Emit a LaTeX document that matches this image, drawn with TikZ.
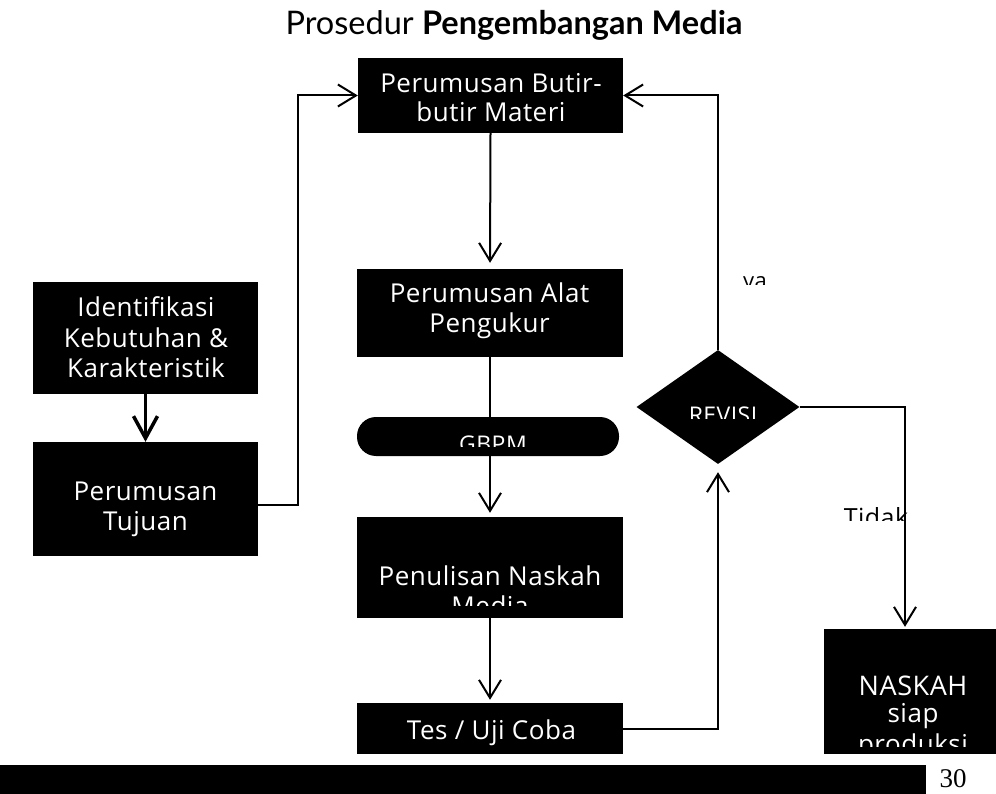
\documentclass[tikz,border=0pt]{standalone}
\usepackage{fontspec}
\setmainfont{Open Sans}[LetterSpace=2]
\newfontfamily\titlefont{Lato}
\newfontfamily\numfont{Liberation Serif}
\usetikzlibrary{arrows.meta,shapes.geometric}

\begin{document}
\begin{tikzpicture}[x=1pt,y=-1pt,
  blk/.style={fill=black,draw=none,inner sep=0pt},
  wtxt/.style={text=white,inner sep=0pt,anchor=base,font=\fontsize{26}{30}\selectfont},
  ktxt/.style={text=black,inner sep=0pt,anchor=base,font=\fontsize{22}{28}\selectfont},
  wire/.style={line width=2pt},
  conn/.style={line width=2pt,-{Straight Barb[length=18pt,width=22pt]}},
  bigconn/.style={line width=3.5pt,-{Straight Barb[length=22pt,width=24pt]}}]
\useasboundingbox (0,0) rectangle (996,794);

% title
\node[inner sep=0pt,anchor=base,font=\titlefont\fontsize{32.5}{38}\selectfont]
  (title) at (514,35) {Prosedur \textbf{Pengembangan Media}};

% boxes
\node[blk,minimum width=225pt,minimum height=112pt] (idf) at (145.5,338) {};
\node[blk,minimum width=225pt,minimum height=114pt] (tuj) at (145.5,499) {};
\node[blk,minimum width=265pt,minimum height=75pt] (b1) at (490.5,95.5) {};
\node[blk,minimum width=266pt,minimum height=88pt] (b2) at (490,313) {};
\node[blk,rounded corners=19pt,minimum width=262pt,minimum height=39pt]
  (gbpm) at (488,436.5) {};
\node[blk,minimum width=266pt,minimum height=101pt] (b3) at (490,567.5) {};
\node[blk,minimum width=266pt,minimum height=51pt] (b4) at (490,728.5) {};
\node[blk,diamond,minimum width=163pt,minimum height=114pt] (rev) at (718,407) {};
\node[blk,minimum width=172pt,minimum height=125pt] (nk) at (910,691.5) {};

% box texts
\node[wtxt] (idf1) at (146,317) {Identifikasi};
\node[wtxt] (idf2) at (146,347) {Kebutuhan \&};
\node[wtxt] (idf3) at (146,377) {Karakteristik};
\node[wtxt] (tuj1) at (145.5,500) {Perumusan};
\node[wtxt] (tuj2) at (145.5,530) {Tujuan};
\node[wtxt] (b1a) at (491,92.5) {Perumusan Butir-};
\node[wtxt] (b1b) at (491,121.5) {butir Materi};
\node[wtxt] (b2a) at (489.5,303) {Perumusan Alat};
\node[wtxt] (b2b) at (489.5,333) {Pengukur};
\node[wtxt] (b4a) at (491.5,739) {Tes / Uji Coba};

% texts cut off by their frames
\begin{scope}
  \clip (357,417) rectangle (619,446);
  \node[wtxt,font=\fontsize{23}{30}\selectfont] (tg) at (493,452) {GBPM};
\end{scope}
\begin{scope}
  \clip (357,517) rectangle (623,605);
  \node[wtxt] (t3a) at (490,585) {Penulisan Naskah};
  \node[wtxt] (t3b) at (490,615) {Media};
\end{scope}
\begin{scope}
  \clip (637,350) rectangle (800,418);
  \node[wtxt,font=\fontsize{23}{28}\selectfont] (tr) at (723,423.5) {REVISI};
\end{scope}
\begin{scope}
  \clip (824,629) rectangle (996,746);
  \node[wtxt,font=\fontsize{27}{30}\selectfont] (tn1) at (913,695) {NASKAH};
  \node[wtxt] (tn2) at (913,722) {siap};
  \node[wtxt] (tn3) at (913,753) {produksi};
\end{scope}
\begin{scope}
  \clip (700,260) rectangle (800,285);
  \node[ktxt] (ya) at (755,289) {ya};
\end{scope}
\begin{scope}
  \clip (830,495) rectangle (920,520);
  \node[ktxt,font=\fontsize{25}{30}\selectfont] (tidak) at (876,526) {Tidak};
\end{scope}

% connectors
\draw[bigconn] (idf.south) -- (tuj.north);
\draw[conn] ([yshift=-6pt]tuj.east) -- ++(40,0) |- (b1.west);
\draw[conn,shorten >=6pt] (b1.south) -- (b2.north);
\draw[wire] (b2.south) -- (b2.south |- gbpm.north);
\draw[conn,shorten >=4pt] (b3.north |- gbpm.south) -- (b3.north);
\draw[conn,shorten >=3pt] (b3.south) -- (b4.north);
\draw[conn,shorten >=8pt] (b4.east) -| (rev.south);
\draw[conn] (rev.north) |- (b1.east);
\draw[conn,shorten >=2pt] (rev.east) -| ([xshift=-5pt]nk.north);

% footer bar and page number
\fill (0,765) rectangle (926,794);
\node[inner sep=0pt,anchor=base,font=\numfont\fontsize{27}{32}\selectfont]
  (pg) at (953,787) {30};
\end{tikzpicture}
\end{document}
